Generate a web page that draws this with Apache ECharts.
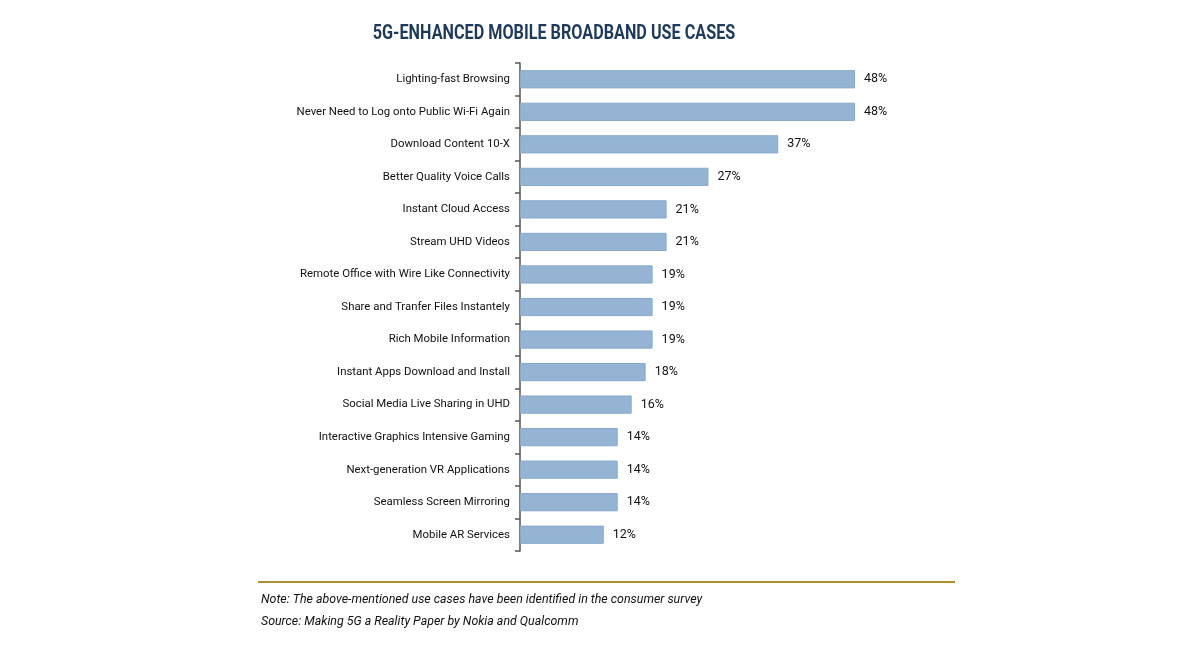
<!DOCTYPE html>
<html><head><meta charset="utf-8">
<script src="https://cdn.jsdelivr.net/npm/echarts@6/dist/echarts.min.js"></script>
<style>html,body{margin:0;padding:0;background:#fff}#c{width:1200px;height:650px}</style>
</head><body><div id="c"></div>
<script>
const categories = [
  "Lighting-fast Browsing",
  "Never Need to Log onto Public Wi-Fi Again",
  "Download Content 10-X",
  "Better Quality Voice Calls",
  "Instant Cloud Access",
  "Stream UHD Videos",
  "Remote Office with Wire Like Connectivity",
  "Share and Tranfer Files Instantely",
  "Rich Mobile Information",
  "Instant Apps Download and Install",
  "Social Media Live Sharing in UHD",
  "Interactive Graphics Intensive Gaming",
  "Next-generation VR Applications",
  "Seamless Screen Mirroring",
  "Mobile AR Services"
];
const values = [48, 48, 37, 27, 21, 21, 19, 19, 19, 18, 16, 14, 14, 14, 12];
const titleText = "5G-ENHANCED MOBILE BROADBAND USE CASES";
const noteText = "Note: The above-mentioned use cases have been identified in the consumer survey";
const sourceText = "Source: Making 5G a Reality Paper by Nokia and Qualcomm";

const font = "Roboto, sans-serif";
const chart = echarts.init(document.getElementById('c'));
chart.setOption({
  animation: false,
  grid: { left: 520, top: 63, width: 349, height: 488, containLabel: false },
  xAxis: { type: 'value', min: 0, max: 50, show: false },
  yAxis: {
    type: 'category', data: categories, inverse: true,
    axisLine: { lineStyle: { color: '#555', width: 1.5 } },
    axisTick: { show: true, length: 5, lineStyle: { color: '#555', width: 1.5 } },
    axisLabel: { fontFamily: font, fontSize: 11.4, color: '#111', margin: 10 }
  },
  series: [{
    type: 'bar', data: values, barCategoryGap: '44%',
    itemStyle: { color: '#95b4d3', borderColor: '#86a9cc', borderWidth: 1 },
    label: { show: true, position: 'right', distance: 9, formatter: '{c}%',
      fontFamily: font, fontSize: 12.5, color: '#111' }
  }],
  graphic: [
    { type: 'text', x: 554, y: 34, scaleX: 0.81,
      style: { text: titleText, fontFamily: font, fontSize: 20, fontWeight: 'bold',
        fill: '#1d3a5c', align: 'center', verticalAlign: 'middle' } },
    { type: 'line', shape: { x1: 258, y1: 582, x2: 955, y2: 582 },
      style: { stroke: '#b08f2e', lineWidth: 2 } },
    { type: 'text', left: 261, top: 594,
      style: { text: noteText, fontFamily: font, fontSize: 12.4, fontStyle: 'italic', fill: '#111' } },
    { type: 'text', left: 261, top: 616,
      style: { text: sourceText, fontFamily: font, fontSize: 12.4, fontStyle: 'italic', fill: '#111' } }
  ]
});
</script></body></html>
